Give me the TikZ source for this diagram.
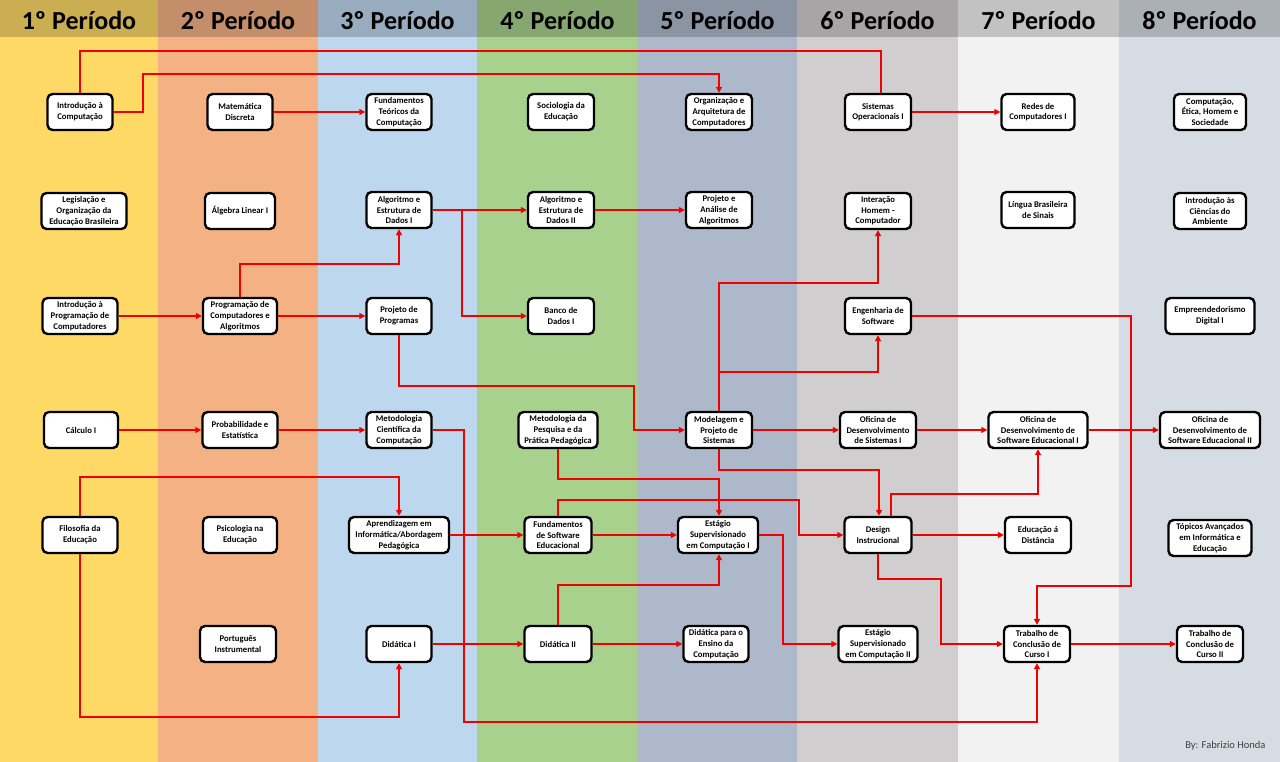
\documentclass[tikz,border=0pt]{standalone}
\usepackage{fontspec}
\newfontfamily\cf{Carlito}
\usetikzlibrary{arrows.meta}
\definecolor{c1}{HTML}{FFD966}
\definecolor{c2}{HTML}{F4B183}
\definecolor{c3}{HTML}{BDD7EE}
\definecolor{c4}{HTML}{A9D18E}
\definecolor{c5}{HTML}{ADB9CA}
\definecolor{c6}{HTML}{D0CECE}
\definecolor{c7}{HTML}{F2F2F2}
\definecolor{c8}{HTML}{D6DCE4}
\definecolor{linkred}{HTML}{F00000}
\tikzset{
  box/.style={draw=black, line width=2.4pt, rounded corners=5pt, fill=white,
    align=center, inner xsep=1pt, inner ysep=1pt, minimum height=36pt,
    font=\cf\bfseries\fontsize{8.7}{10.7}\selectfont},
  link/.style={draw=linkred, line width=1.9pt, -{Triangle[length=6pt,width=6pt]}},
  plain/.style={draw=linkred, line width=1.9pt},
  head/.style={font=\cf\bfseries\fontsize{26}{28}\selectfont, anchor=center}
}
\begin{document}
\begin{tikzpicture}[x=1pt,y=-1pt]
\useasboundingbox (0,0) rectangle (1280,762);
% columns
\foreach \c/\a/\b/\t in {c1/0/158/1, c2/158/318/2, c3/318/477/3, c4/477/638/4, c5/638/797/5, c6/797/958/6, c7/958/1119/7, c8/1119/1280/8}{
  \fill[\c] (\a,0) rectangle (\b,762);
  \fill[\c!80!black] (\a,0) rectangle (\b,37);
  \node[head] at ({(\a+\b)/2},20) {{\t}º Período};
}
% row 1
\node[box, minimum width=65pt] (ic)  at (80,112)  {Introdução à\\Computação};
\node[box, minimum width=65pt] (md)  at (240,112) {Matemática\\Discreta};
\node[box, minimum width=65pt] (ftc) at (399,112) {Fundamentos\\Teóricos da\\Computação};
\node[box, minimum width=66pt] (soc) at (561,112) {Sociologia da\\Educação};
\node[box, minimum width=66pt] (oac) at (719,112) {Organização e\\Arquitetura de\\Computadores};
\node[box, minimum width=66pt] (so)  at (878,112) {Sistemas\\Operacionais I};
\node[box, minimum width=73pt] (rc)  at (1038,112) {Redes de\\Computadores I};
\node[box, minimum width=72pt] (ceh) at (1210,112) {Computação,\\Ética, Homem e\\Sociedade};
% row 2
\node[box, minimum width=85pt] (leg) at (84,211) {Legislação e\\Organização da\\Educação Brasileira};
\node[box, minimum width=70pt] (al)  at (240,211) {Álgebra Linear I};
\node[box, minimum width=65pt] (aed1) at (399,210) {Algoritmo e\\Estrutura de\\Dados I};
\node[box, minimum width=66pt] (aed2) at (561,210) {Algoritmo e\\Estrutura de\\Dados II};
\node[box, minimum width=66pt] (paa) at (719,210) {Projeto e\\Análise de\\Algoritmos};
\node[box, minimum width=66pt] (ihc) at (878,211) {Interação\\Homem -\\Computador};
\node[box, minimum width=73pt] (libras) at (1038,210) {Língua Brasileira\\de Sinais};
\node[box, minimum width=72pt] (ica) at (1210,211) {Introdução às\\Ciências do\\Ambiente};
% row 3
\node[box, minimum width=75pt] (ip)  at (80,316) {Introdução à\\Programação de\\Computadores};
\node[box, minimum width=74pt] (pca) at (240,316) {Programação de\\Computadores e\\Algoritmos};
\node[box, minimum width=65pt] (pp)  at (399,316) {Projeto de\\Programas};
\node[box, minimum width=66pt] (bd)  at (561,316) {Banco de\\Dados I};
\node[box, minimum width=66pt] (es)  at (878,316) {Engenharia de\\Software};
\node[box, minimum width=89pt] (ed)  at (1210,316) {Empreendedorismo\\Digital I};
% row 4
\node[box, minimum width=74pt] (calc) at (81,430) {Cálculo I};
\node[box, minimum width=75pt] (pe)  at (240,430) {Probabilidade e\\Estatística};
\node[box, minimum width=65pt] (mcc) at (399,430) {Metodologia\\Científica da\\Computação};
\node[box, minimum width=79pt] (mpp) at (558,430) {Metodologia da\\Pesquisa e da\\Prática Pedagógica};
\node[box, minimum width=66pt] (mps) at (719,430) {Modelagem e\\Projeto de\\Sistemas};
\node[box, minimum width=76pt] (ods) at (878,430) {Oficina de\\Desenvolvimento\\de Sistemas I};
\node[box, minimum width=99pt] (odse1) at (1038,430) {Oficina de\\Desenvolvimento de\\Software Educacional I};
\node[box, minimum width=100pt] (odse2) at (1210,430) {Oficina de\\Desenvolvimento de\\Software Educacional II};
% row 5
\node[box, minimum width=75pt] (fil) at (80,535) {Filosofia da\\Educação};
\node[box, minimum width=74pt] (psi) at (240,535) {Psicologia na\\Educação};
\node[box, minimum width=100pt] (apr) at (399,535) {Aprendizagem em\\Informática/Abordagem\\Pedagógica};
\node[box, minimum width=67pt] (fse) at (558,535) {Fundamentos\\de Software\\Educacional};
\node[box, minimum width=80pt] (esc1) at (718,535) {Estágio\\Supervisionado\\em Computação I};
\node[box, minimum width=67pt] (di)  at (878,535) {Design\\Instrucional};
\node[box, minimum width=66pt] (ead) at (1038,535) {Educação á\\Distância};
\node[box, minimum width=83pt] (tai) at (1210,538) {Tópicos Avançados\\em Informática e\\Educação};
% row 6
\node[box, minimum width=76pt] (port) at (238,644) {Português\\Instrumental};
\node[box, minimum width=65pt] (did1) at (399,644) {Didática I};
\node[box, minimum width=67pt] (did2) at (558,644) {Didática II};
\node[box, minimum width=65pt] (dec)  at (716,644) {Didática para o\\Ensino da\\Computação};
\node[box, minimum width=79pt] (esc2) at (878,644) {Estágio\\Supervisionado\\em Computação II};
\node[box, minimum width=66pt] (tcc1) at (1037,644) {Trabalho de\\Conclusão de\\Curso I};
\node[box, minimum width=66pt] (tcc2) at (1210,644) {Trabalho de\\Conclusão de\\Curso II};
% helper coordinates
\coordinate (b1) at (462,210);
\coordinate (b2) at (719,372);
% connectors
\draw[plain] (ic.north) |- (500,51) -| ([xshift=3pt]so.north);
\draw[link] (ic.east) -| (143,74) -| (oac.north);
\draw[link] (md.east) -- (ftc.west);
\draw[link] (aed1.east) -- (aed2.west);
\draw[link] (b1) |- (bd.west);
\draw[link] (aed2.east) -- (paa.west);
\draw[link] (pca.north) |- (320,264) -| (aed1.south);
\draw[link] (pca.east) -- (pp.west);
\draw[link] (ip.east) -- (pca.west);
\draw[link] (pp.south) |- (634,386) |- (mps.west);
\draw[link] (calc.east) -- (pe.west);
\draw[link] (pe.east) -- (mcc.west);
\draw[link] (mcc.east) -| (464,722) -| (tcc1.south);
\draw[link] (fil.north) |- (200,477) -| (apr.north);
\draw[link] (fil.south) |- (200,717) -| (did1.south);
\draw[link] (apr.east) -- (fse.west);
\draw[link] (did1.east) -- (did2.west);
\draw[link] (mpp.south) |- (640,479) -| ([xshift=1pt]esc1.north);
\draw[link] (fse.north) |- (799,500) |- (di.west);
\draw[link] (fse.east) -- (esc1.west);
\draw[link] (did2.north) |- (640,585) -| ([xshift=1pt]esc1.south);
\draw[link] (did2.east) -- (dec.west);
\draw[link] (esc1.east) -| (783,644) -- (esc2.west);
\draw[link] (di.south) |- (941,579) |- (tcc1.west);
\draw[link] (di.east) -- (ead.west);
\draw[link] (tcc1.east) -- (tcc2.west);
\draw[link] (es.east) -| (1131,586) -| (tcc1.north);
\draw[link] (mps.north) |- (800,283) -| (ihc.south);
\draw[link] (b2) -| (es.south);
\draw[link] (mps.east) -- (ods.west);
\draw[link] (ods.east) -- (odse1.west);
\draw[link] (odse1.east) -- (odse2.west);
\draw[link] (mps.south) |- (800,470) -| ([xshift=1pt]di.north);
\draw[link] ([xshift=13pt]di.north) |- (1000,494) -| (odse1.south);
\draw[link] (so.east) -- (rc.west);
% credit
\node[anchor=east, font=\cf\fontsize{10.5}{12}\selectfont, text=black!75] (credit) at (1269,746) {By: Fabrizio Honda};
\end{tikzpicture}
\end{document}
